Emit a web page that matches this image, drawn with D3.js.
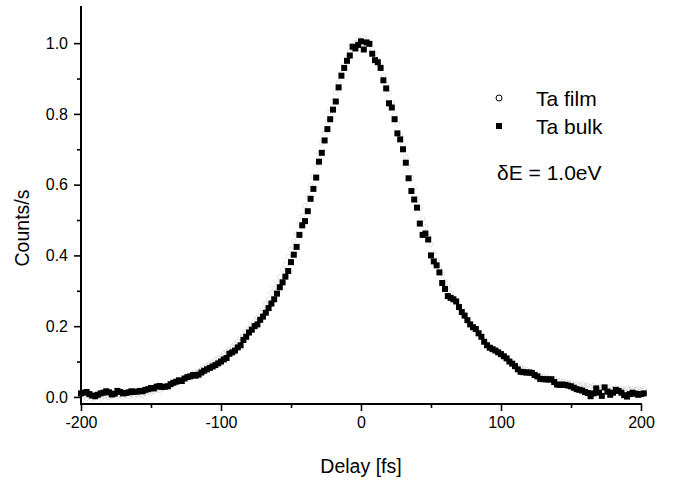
<!DOCTYPE html>
<html>
<head>
<meta charset="utf-8">
<script src="https://cdn.jsdelivr.net/npm/d3@7"></script>
<style>
  html, body { margin: 0; padding: 0; background: #fff; }
  svg { display: block; font-family: "Liberation Sans", Arial, Helvetica, sans-serif; }
</style>
</head>
<body>
<svg id="chart" width="676" height="482"></svg>
<script>
// ---- data ----
const delayStart = -200;   // fs
const delayStep = 2;       // fs per sample
const xTicks = [-200, -100, 0, 100, 200];
const xMinorTicks = [-150, -50, 50, 150];
const yTicks = [0.0, 0.2, 0.4, 0.6, 0.8, 1.0];
const yMinorTicks = [0.1, 0.3, 0.5, 0.7, 0.9];
const seriesNames = ["Ta film", "Ta bulk"];
const annotation = "\u03b4E = 1.0eV";

// Ta bulk (filled squares), delays -200..202 fs
const taBulk = [
  0.010, 0.012, 0.014, 0.008, 0.004, 0.002, 0.006, 0.010, 0.012, 0.016,
  0.013, 0.007, 0.009, 0.017, 0.014, 0.010, 0.011, 0.013, 0.016, 0.014,
  0.015, 0.017, 0.016, 0.020, 0.022, 0.025, 0.024, 0.029, 0.031, 0.028,
  0.029, 0.030, 0.036, 0.040, 0.043, 0.047, 0.045, 0.052, 0.056, 0.058,
  0.062, 0.060, 0.063, 0.069, 0.074, 0.078, 0.082, 0.086, 0.090, 0.095,
  0.100, 0.106, 0.110, 0.122, 0.126, 0.131, 0.140, 0.146, 0.161, 0.170,
  0.182, 0.190, 0.200, 0.205, 0.218, 0.227, 0.238, 0.251, 0.264, 0.276,
  0.292, 0.310, 0.324, 0.340, 0.356, 0.381, 0.402, 0.424, 0.458, 0.485,
  0.497, 0.525, 0.560, 0.588, 0.620, 0.665, 0.690, 0.725, 0.757, 0.785,
  0.812, 0.835, 0.875, 0.908, 0.930, 0.950, 0.965, 0.990, 0.985, 0.995,
  1.005, 0.982, 1.002, 0.998, 0.970, 0.952, 0.946, 0.930, 0.895, 0.872,
  0.830, 0.818, 0.785, 0.745, 0.728, 0.700, 0.662, 0.618, 0.582, 0.558,
  0.535, 0.490, 0.458, 0.462, 0.445, 0.400, 0.383, 0.372, 0.352, 0.322,
  0.305, 0.285, 0.280, 0.276, 0.270, 0.254, 0.240, 0.230, 0.217, 0.205,
  0.197, 0.192, 0.180, 0.170, 0.156, 0.146, 0.139, 0.135, 0.131, 0.126,
  0.121, 0.115, 0.109, 0.100, 0.094, 0.087, 0.078, 0.071, 0.070, 0.069,
  0.069, 0.068, 0.062, 0.058, 0.051, 0.050, 0.050, 0.049, 0.050, 0.042,
  0.035, 0.034, 0.035, 0.034, 0.032, 0.030, 0.026, 0.022, 0.020, 0.018,
  0.014, 0.011, 0.002, 0.010, 0.024, 0.012, 0.003, 0.027, 0.015, 0.006,
  0.012, 0.020, 0.017, 0.012, 0.005, 0.001, 0.008, 0.012, 0.009, 0.006,
  0.008, 0.010
];

// Ta film (open circles), delays -200..202 fs
const taFilm = [
  0.004, 0.000, -0.004, 0.002, -0.006, -0.002, 0.003, -0.003, 0.001, 0.004,
  -0.002, 0.002, 0.006, 0.001, 0.004, 0.000, 0.005, 0.002, 0.007, 0.003,
  0.006, 0.009, 0.005, 0.010, 0.014, 0.012, 0.016, 0.020, 0.018, 0.024,
  0.026, 0.031, 0.033, 0.039, 0.041, 0.047, 0.050, 0.055, 0.058, 0.060,
  0.066, 0.071, 0.074, 0.077, 0.083, 0.089, 0.093, 0.097, 0.105, 0.110,
  0.114, 0.122, 0.128, 0.133, 0.142, 0.149, 0.156, 0.166, 0.173, 0.185,
  0.194, 0.203, 0.215, 0.224, 0.238, 0.249, 0.264, 0.276, 0.293, 0.307,
  0.324, 0.339, 0.359, 0.375, 0.397, 0.416, 0.441, 0.461, 0.489, 0.511,
  0.541, 0.565, 0.597, 0.623, 0.656, 0.688, 0.717, 0.747, 0.779, 0.805,
  0.837, 0.861, 0.889, 0.914, 0.939, 0.957, 0.976, 0.987, 1.001, 1.011,
  1.008, 1.016, 1.004, 0.997, 0.984, 0.971, 0.954, 0.935, 0.909, 0.885,
  0.859, 0.831, 0.799, 0.773, 0.741, 0.713, 0.679, 0.651, 0.619, 0.591,
  0.559, 0.533, 0.504, 0.481, 0.454, 0.431, 0.407, 0.387, 0.364, 0.347,
  0.326, 0.311, 0.293, 0.280, 0.264, 0.252, 0.237, 0.227, 0.213, 0.205,
  0.193, 0.185, 0.174, 0.167, 0.157, 0.151, 0.142, 0.137, 0.129, 0.125,
  0.117, 0.113, 0.106, 0.103, 0.096, 0.094, 0.087, 0.085, 0.079, 0.078,
  0.072, 0.071, 0.066, 0.065, 0.060, 0.059, 0.055, 0.054, 0.050, 0.052,
  0.046, 0.046, 0.042, 0.042, 0.039, 0.041, 0.036, 0.036, 0.033, 0.035,
  0.031, 0.032, 0.028, 0.031, 0.027, 0.029, 0.026, 0.028, 0.024, 0.027,
  0.023, 0.026, 0.022, 0.025, 0.021, 0.024, 0.020, 0.024, 0.021, 0.023,
  0.020, 0.022
];

// ---- drawing ----
const svg = d3.select("#chart");
const plotLeft = 81, plotRight = 641, plotTop = 6, plotBottom = 404;

const x = d3.scaleLinear().domain([-200, 200]).range([plotLeft, plotRight]);
const y = d3.scaleLinear().domain([-0.02, 1.105]).range([plotBottom, plotTop]);

const filmPts = taFilm.map((v, i) => ({ d: delayStart + i * delayStep, v }));
const bulkPts = taBulk.map((v, i) => ({ d: delayStart + i * delayStep, v }));

// film (open circles, light)
svg.append("g")
  .selectAll("circle")
  .data(filmPts)
  .join("circle")
  .attr("cx", p => x(p.d))
  .attr("cy", p => y(p.v))
  .attr("r", 2.3)
  .attr("fill", "none")
  .attr("stroke", "#a8a8a8")
  .attr("stroke-width", 0.6)
  .attr("stroke-dasharray", "1.2,1");

// bulk (filled squares)
const sq = 6;
svg.append("g")
  .selectAll("rect")
  .data(bulkPts)
  .join("rect")
  .attr("x", p => x(p.d) - sq / 2)
  .attr("y", p => y(p.v) - sq / 2)
  .attr("width", sq)
  .attr("height", sq)
  .attr("fill", "#000");

// axes
const fmtX = d => String(d);
const xAxis = svg.append("g").attr("transform", `translate(0,${plotBottom})`);
xAxis.call(d3.axisBottom(x).tickValues(xTicks).tickSize(7).tickPadding(6).tickFormat(fmtX));
xAxis.append("g").call(d3.axisBottom(x).tickValues(xMinorTicks).tickSize(4).tickFormat(""));

const yAxis = svg.append("g").attr("transform", `translate(${plotLeft},0)`);
yAxis.call(d3.axisLeft(y).tickValues(yTicks).tickSize(7).tickPadding(6).tickFormat(d => d.toFixed(1)));
yAxis.append("g").call(d3.axisLeft(y).tickValues(yMinorTicks).tickSize(4).tickFormat(""));

svg.selectAll(".domain").remove();
svg.append("line").attr("x1", plotLeft - 1).attr("x2", plotRight + 1).attr("y1", plotBottom).attr("y2", plotBottom)
  .attr("stroke", "#000").attr("stroke-width", 2);
svg.append("line").attr("x1", plotLeft).attr("x2", plotLeft).attr("y1", plotTop).attr("y2", plotBottom + 1)
  .attr("stroke", "#000").attr("stroke-width", 2);

svg.selectAll(".tick line").attr("stroke", "#000").attr("stroke-width", 1.6);
svg.selectAll(".tick text").attr("fill", "#000").style("font-size", "16px")
  .style("font-family", "'Liberation Sans', Arial, sans-serif");

// axis titles
svg.append("text")
  .attr("x", (plotLeft + plotRight) / 2)
  .attr("y", 473)
  .attr("text-anchor", "middle")
  .style("font-size", "19.5px")
  .text("Delay [fs]");

svg.append("text")
  .attr("transform", `translate(29,228) rotate(-90)`)
  .attr("text-anchor", "middle")
  .style("font-size", "19.5px")
  .text("Counts/s");

// legend
const lg = svg.append("g");
lg.append("circle").attr("cx", 499).attr("cy", 98).attr("r", 3)
  .attr("fill", "none").attr("stroke", "#000").attr("stroke-width", 1);
lg.append("text").attr("x", 536).attr("y", 106).style("font-size", "21px").text(seriesNames[0]);
lg.append("rect").attr("x", 496).attr("y", 123).attr("width", 6).attr("height", 6).attr("fill", "#000");
lg.append("text").attr("x", 536).attr("y", 134).style("font-size", "21px").text(seriesNames[1]);
lg.append("text").attr("x", 497).attr("y", 180).style("font-size", "21px").text(annotation);
</script>
</body>
</html>
